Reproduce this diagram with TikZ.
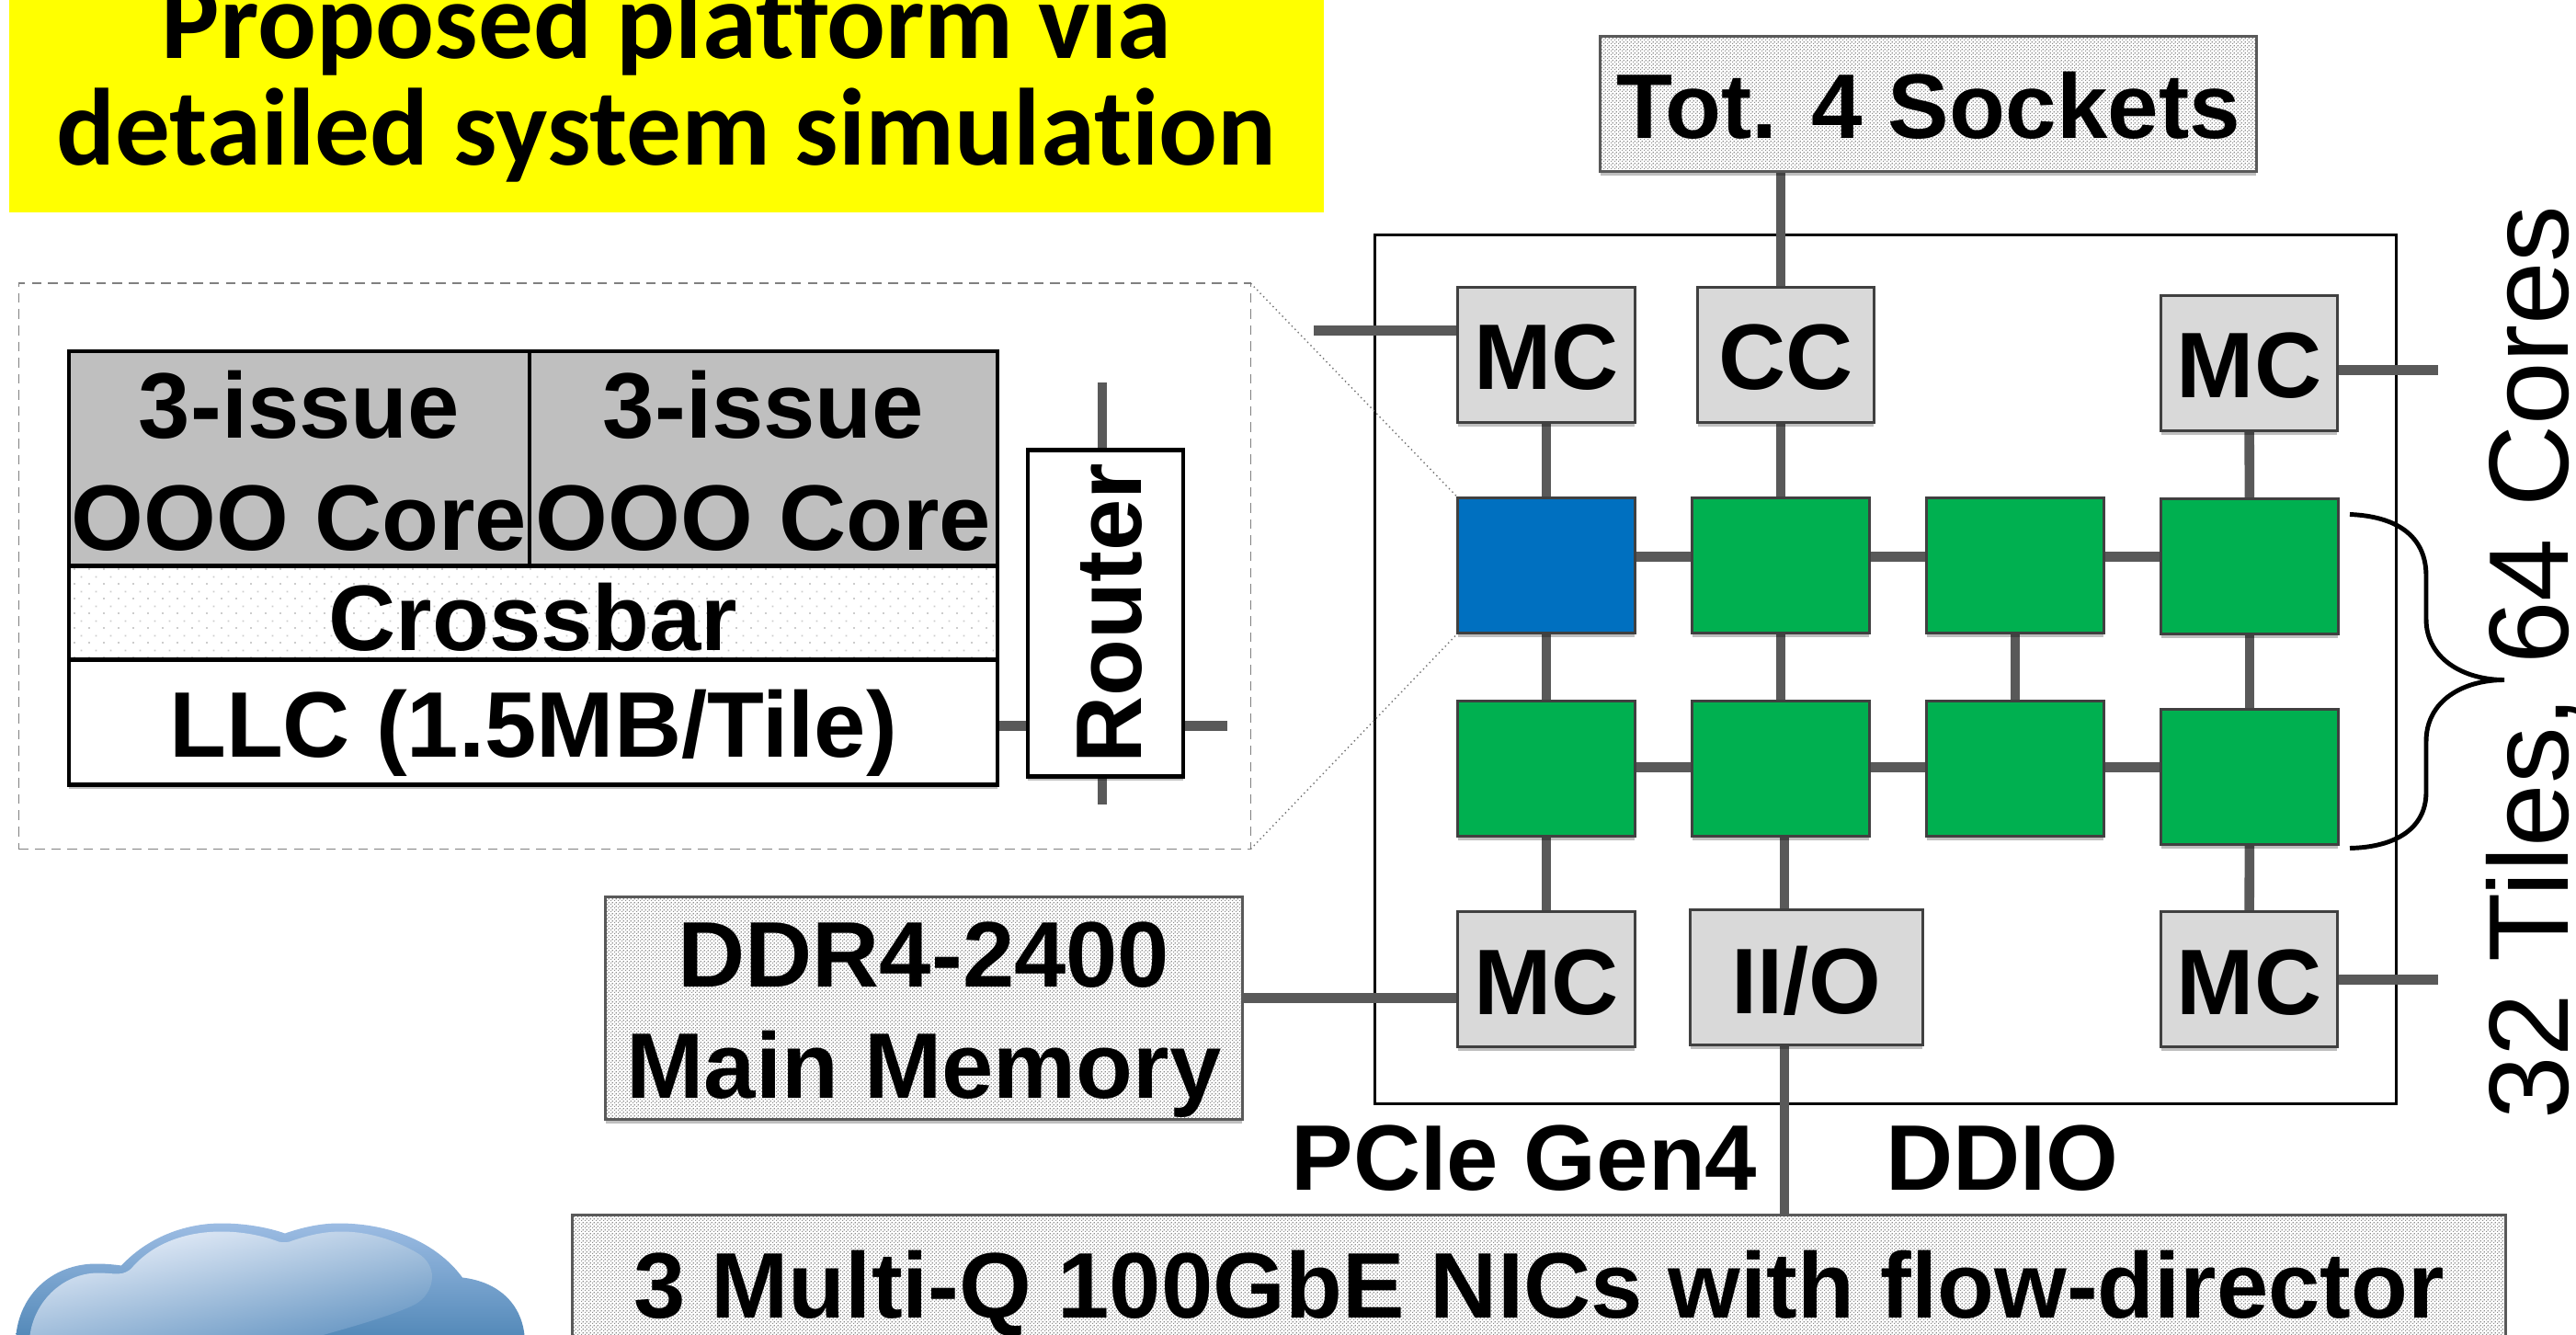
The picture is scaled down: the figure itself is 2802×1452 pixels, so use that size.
\documentclass[tikz,border=0pt]{standalone}
\usepackage{fontspec}
\setmainfont{Liberation Sans}
\newfontfamily\calibrifont[Ligatures=NoCommon]{Carlito}
\usetikzlibrary{shadows,patterns}
\definecolor{conn}{HTML}{595959}
\definecolor{edge}{HTML}{404040}
\definecolor{tilegreen}{HTML}{00B050}
\definecolor{tileblue}{HTML}{0070C0}
\definecolor{ctrl}{HTML}{D9D9D9}
\definecolor{coregray}{HTML}{BFBFBF}
\definecolor{cloudrim}{HTML}{9CBCE3}
\definecolor{cloudrimlow}{HTML}{4F86B6}
\definecolor{cloudhi}{HTML}{EAF0FA}
\definecolor{cloudhilow}{HTML}{6293C1}
\definecolor{titleyellow}{RGB}{255,255,0}
\pgfdeclarelayer{backl}\pgfdeclarelayer{connl}
\pgfsetlayers{backl,connl,main}
\pgfdeclarepatternformonly{densedots}{\pgfpointorigin}{\pgfqpoint{1.138pt}{1.138pt}}{\pgfqpoint{1.138pt}{1.138pt}}{
  \pgfpathrectangle{\pgfqpoint{0pt}{0pt}}{\pgfqpoint{.43pt}{.43pt}}
  \pgfpathrectangle{\pgfqpoint{.569pt}{.569pt}}{\pgfqpoint{.43pt}{.43pt}}
  \pgfusepath{fill}}
\pgfdeclarepatternformonly{sparsedots}{\pgfpointorigin}{\pgfqpoint{4.552pt}{4.552pt}}{\pgfqpoint{4.552pt}{4.552pt}}{
  \pgfpathrectangle{\pgfqpoint{0pt}{0pt}}{\pgfqpoint{.57pt}{.57pt}}
  \pgfpathrectangle{\pgfqpoint{2.276pt}{2.276pt}}{\pgfqpoint{.57pt}{.57pt}}
  \pgfusepath{fill}}
\def\PX{0.284527}
% name, x1, y1, x2, y2, baseline, style, text
\newcommand\bx[8]{%
  \pgfmathsetlengthmacro\bxw{(#4-#2)*\PX pt}%
  \pgfmathsetlengthmacro\bxh{(#6-#3)*\PX pt}%
  \pgfmathsetlengthmacro\bxd{(#5-#6)*\PX pt}%
  \pgfmathsetmacro\bxc{(#2+#4)/2}%
  \node[anchor=base,inner sep=0pt,outer sep=0pt,minimum width=\bxw,text height=\bxh,text depth=\bxd,#7] (#1) at (\bxc,#6) {#8};}
\newcommand\twoline[3]{\makebox[0pt]{\raisebox{#1}{#2}}\makebox[0pt]{#3}}
\tikzset{
  big/.style={font=\fontsize{28.8}{34}\selectfont\bfseries},
  shad/.style={drop shadow={shadow xshift=0pt,shadow yshift=-1.2pt,opacity=.25,fill=black}},
  dotbox/.style={big,shad,draw=conn,line width=.9pt,preaction={fill=white},pattern=densedots,pattern color=black!45},
  ctrlbox/.style={big,shad,draw=edge,line width=.85pt,fill=ctrl},
  tile/.style={shad,draw=edge,line width=.85pt},
  blackbox/.style={big,shad,draw=black,line width=1.2pt},
  wire/.style={draw=conn,line width=3pt},
  zoomline/.style={draw=black!55,line width=.4pt,densely dotted},
}
\begin{document}
\begin{tikzpicture}[x=0.01cm,y=-0.01cm]
\useasboundingbox (0,-1.5) rectangle (2802,1450.5);
\clip (0,-1.5) rectangle (2802,1450.5);
\coordinate (r1) at (0,604);
\coordinate (r2) at (0,833);
\coordinate (xa) at (1937,0);
\coordinate (xb) at (1941,0);
\coordinate (xc) at (2192,0);
\coordinate (yr) at (0,788);
\coordinate (mc1end) at (1429,358);
\coordinate (mc2end) at (2652,401);
\coordinate (mc4end) at (2652,1064);
\coordinate (ddry) at (0,1084);
\coordinate (rtop) at (1199,415);
\coordinate (rbot) at (1199,873);
\coordinate (rright) at (1335,788);

\bx{title}{10}{-5}{1440}{229.5}{178}{fill=titleyellow,font=\calibrifont\fontsize{33.9}{40}\selectfont\bfseries}{\twoline{33pt}{Proposed platform via}{detailed system simulation}}

\begin{pgfonlayer}{backl}
\bx{inset}{21}{307}{1360}{922}{922}{draw=black!50,densely dashed,line width=.5pt,fill=white}{}
\bx{chip}{1496}{255}{2606}{1199}{1199}{draw=black,line width=.85pt}{}
\end{pgfonlayer}

% left inset
\bx{coreA}{75}{381}{576}{614}{597}{blackbox,fill=coregray}{\twoline{34.7pt}{3-issue}{OOO Core}}
\bx{coreB}{576}{381}{1085}{614}{597}{blackbox,fill=coregray}{\twoline{34.7pt}{3-issue}{OOO Core}}
\bx{xbar}{75}{614}{1085}{716}{706}{blackbox,preaction={fill=white},pattern=sparsedots,pattern color=black!20}{Crossbar}
\bx{llc}{75}{716}{1085}{852}{822}{blackbox,fill=white}{LLC (1.5MB/Tile)}
\pgfmathsetlengthmacro\rw{355*\PX pt}
\pgfmathsetlengthmacro\rh{123*\PX pt}
\pgfmathsetlengthmacro\rd{46*\PX pt}
\node[anchor=base,rotate=90,inner sep=0pt,outer sep=0pt,minimum width=\rw,text height=\rh,text depth=\rd,draw=black,line width=1.2pt,fill=white,big,shad] (router) at (1241,665.5) {Router};

% external boxes
\bx{tot}{1741}{38}{2454}{185}{149}{dotbox,font=\fontsize{28.4}{34}\selectfont\bfseries}{Tot. 4 Sockets}
\bx{ddr}{659}{974}{1351}{1216}{1193}{dotbox}{\twoline{34.4pt}{DDR4-2400}{Main Memory}}
\bx{nic}{623}{1320}{2725}{1480}{1432}{dotbox}{3 Multi-Q 100GbE NICs with flow-director}

% controllers
\bx{mc1}{1586}{311}{1778}{458}{422}{ctrlbox}{MC}
\bx{cc}{1847}{311}{2038}{458}{422}{ctrlbox}{CC}
\bx{mc2}{2351}{320}{2542}{467}{431}{ctrlbox}{MC}
\bx{mc3}{1586}{990}{1778}{1137}{1102}{ctrlbox}{MC}
\bx{io}{1839}{988}{2091}{1135}{1101}{ctrlbox}{II/O}
\bx{mc4}{2351}{990}{2542}{1137}{1102}{ctrlbox}{MC}

% tiles
\bx{t11}{1586}{540}{1778}{687}{687}{tile,fill=tileblue}{}
\bx{t12}{1841}{540}{2033}{687}{687}{tile,fill=tilegreen}{}
\bx{t13}{2096}{540}{2288}{687}{687}{tile,fill=tilegreen}{}
\bx{t14}{2351}{541}{2543}{688}{688}{tile,fill=tilegreen}{}
\bx{t21}{1586}{761}{1778}{908}{908}{tile,fill=tilegreen}{}
\bx{t22}{1841}{761}{2033}{908}{908}{tile,fill=tilegreen}{}
\bx{t23}{2096}{761}{2288}{908}{908}{tile,fill=tilegreen}{}
\bx{t24}{2351}{770}{2543}{917}{917}{tile,fill=tilegreen}{}

% labels
\node[big,anchor=base,inner sep=0pt] (pcie) at (1658,1293) {PCIe Gen4};
\node[big,anchor=base,inner sep=0pt] (ddio) at (2178,1293) {DDIO};
\node[font=\fontsize{35}{40}\selectfont,anchor=base,rotate=90,inner sep=0pt] (count) at (2793,719) {32 Tiles, 64 Cores};

\begin{pgfonlayer}{connl}
\path[zoomline] (inset.north east) -- (t11.north west);
\path[zoomline] (inset.south east) -- (t11.south west);
\path[wire] (tot.south -| xa) -- (cc.north -| xa);
\path[wire] (cc.south -| xa) -- (t12.north -| xa);
\path[wire] (mc1) -- (t11);
\path[wire] (mc2) -- (t14);
\path[wire] (t11.east |- r1) -- (t12.west |- r1);
\path[wire] (t12.east |- r1) -- (t13.west |- r1);
\path[wire] (t13.east |- r1) -- (t14.west |- r1);
\path[wire] (t21.east |- r2) -- (t22.west |- r2);
\path[wire] (t22.east |- r2) -- (t23.west |- r2);
\path[wire] (t23.east |- r2) -- (t24.west |- r2);
\path[wire] (t11) -- (t21);
\path[wire] (t12.south -| xa) -- (t22.north -| xa);
\path[wire] (t13.south -| xc) -- (t23.north -| xc);
\path[wire] (t14) -- (t24);
\path[wire] (t21) -- (mc3);
\path[wire] (t22.south -| xb) -- (io.north -| xb);
\path[wire] (t24) -- (mc4);
\path[wire] (io.south -| xb) -- (nic.north -| xb);
\path[wire] (mc1.west |- mc1end) -- (mc1end);
\path[wire] (mc2.east |- mc2end) -- (mc2end);
\path[wire] (mc4.east |- mc4end) -- (mc4end);
\path[wire] (ddr.east |- ddry) -- (mc3.west |- ddry);
\path[wire] (router.east -| rtop) -- (rtop);
\path[wire] (router.west -| rbot) -- (rbot);
\path[wire] (llc.east |- yr) -- (router.north |- yr);
\path[wire] (router.south |- rright) -- (rright);
\end{pgfonlayer}

% brace
\draw[black,line width=1.4pt] (2556,558) .. controls (2605,560) and (2639,580) .. (2639,625) -- (2639,672) .. controls (2639,715) and (2680,738) .. (2724,738) .. controls (2680,738) and (2639,760) .. (2639,805) -- (2639,860) .. controls (2639,900) and (2605,920) .. (2556,921);

% cloud
\path[top color=cloudrim,bottom color=cloudrimlow] (17,1460) .. controls (17,1410) and (55,1372) .. (107,1373) .. controls (115,1373) and (125,1374) .. (132,1375) .. controls (160,1345) and (200,1329) .. (241,1329) .. controls (265,1329) and (290,1333) .. (310,1340) .. controls (330,1333) and (350,1329) .. (368,1329) .. controls (425,1329) and (475,1350) .. (503,1388) .. controls (545,1393) and (571,1420) .. (571,1460) -- cycle;
\path[top color=cloudhi,bottom color=cloudhilow,shading angle=12] (32,1460) .. controls (32,1420) and (65,1383) .. (107,1383) .. controls (115,1383) and (122,1384) .. (128,1384) .. controls (135,1384) and (140,1381) .. (143,1378) .. controls (165,1352) and (200,1338) .. (241,1338) .. controls (262,1338) and (285,1342) .. (303,1349) .. controls (307,1350) and (311,1350) .. (315,1349) .. controls (335,1342) and (352,1338) .. (372,1338) .. controls (400,1338) and (430,1347) .. (455,1362) .. controls (465,1368) and (470,1378) .. (470,1387) .. controls (470,1400) and (462,1412) .. (450,1418) .. controls (420,1432) and (370,1445) .. (336,1455) -- (336,1460) -- cycle;
\end{tikzpicture}
\end{document}
